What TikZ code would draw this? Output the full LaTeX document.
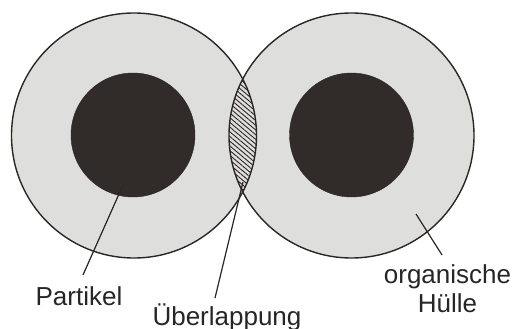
\documentclass[tikz,border=0pt]{standalone}
\usepackage{fontspec}
\setmainfont{Liberation Sans}
\usetikzlibrary{
  arrows.meta,
  positioning,
  calc,
  patterns.meta
}
\definecolor{ptShell}{HTML}{DEDEDD}
\definecolor{ptCore}{HTML}{312B29}
\definecolor{ptLine}{HTML}{2B2624}
\tikzset{
  shell/.style={
    circle, draw=ptLine, line width=1.4pt, fill=ptShell, minimum size=245pt, inner sep=0pt
  },
  core/.style={circle, draw=ptLine, fill=ptCore, minimum size=124pt, inner sep=0pt},
  overlap/.style={pattern={Lines[angle=-40, distance=3.6pt, line width=0.9pt]}, pattern color=ptLine},
  leader/.style={line width=1.2pt, ptLine},
  tag/.style={font=\fontsize{26}{29}\selectfont, inner sep=0pt, align=center, text=black!85}
}
\begin{document}
\begin{tikzpicture}[x=1pt, y=-1pt]
  \useasboundingbox (0,0) rectangle (514,329);
  % outer shells, filled first
  \node[shell, draw=none] (shellL) at (134,135.5) {};
  \node[shell, draw=none] (shellR) at (351.5,135.5) {};
  \begin{scope}
    \clip (shellL.center) circle[radius=122.5pt];
    \fill[overlap] (shellR.center) circle[radius=122.5pt];
  \end{scope}
  \node[shell, fill=none] at (shellL) {};
  \node[shell, fill=none] at (shellR) {};
  \node[core] (coreL) at (133,135) {};
  \node[core] (coreR) at (351.5,135) {};
  % labels
  \node[tag, anchor=base] (partikel) at (79,305) {Partikel};
  \node[tag, anchor=base] (ueber) at (227,325) {Überlappung};
  \node[tag, anchor=base] (huelle) at (447.5,312) {organische\\Hülle};
  \coordinate (tipP) at (123,185);
  \coordinate (tipU) at (243,182);
  \coordinate (tipH) at (416,214);
  \draw[leader] (tipP) -- ([xshift=4pt, yshift=11pt]partikel.north);
  \draw[leader] (tipU) -- ([xshift=-12pt, yshift=5pt]ueber.north);
  \draw[leader] (tipH) -- ([xshift=-5.5pt, yshift=9pt]huelle.north);
\end{tikzpicture}
\end{document}
